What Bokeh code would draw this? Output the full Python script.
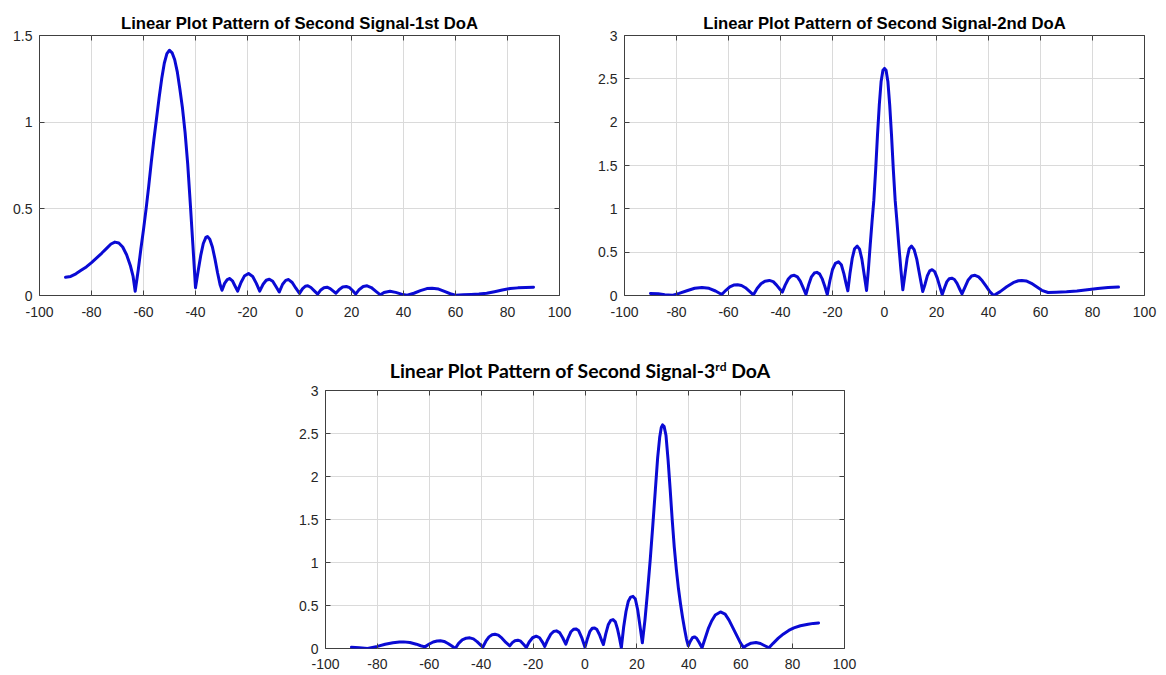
from bokeh.plotting import figure
from bokeh.models import LinearAxis, FixedTicker, NumeralTickFormatter, Range1d, Div, Spacer
from bokeh.layouts import row, column
from bokeh.embed import file_html
from bokeh.resources import INLINE

# ---------------- data ----------------
x_ticks = [-100, -80, -60, -40, -20, 0, 20, 40, 60, 80, 100]
y_ticks_first = [0, 0.5, 1, 1.5]
y_ticks_other = [0, 0.5, 1, 1.5, 2, 2.5, 3]

title_first = "Linear Plot Pattern of Second Signal-1st DoA"
title_second = "Linear Plot Pattern of Second Signal-2nd DoA"
title_third_main = "Linear Plot Pattern of Second Signal-3"
title_third_sup = "rd"
title_third_end = " DoA"

doa1_angle = [-90, -88, -86, -84, -82, -80, -78, -76, -74, -72.5, -71, -69.5, -68, -66.5, -65, -64,
              -63.2, -62, -61, -60, -59, -58, -57, -56, -55, -54, -53, -52, -51, -50, -49, -48, -47,
              -46, -45, -44, -43, -42, -41, -40,
              -39, -38, -37, -36, -35.4, -34.5, -33.5, -32.5, -31.5, -30.5, -29.8,
              -28.8, -27.8, -26.8, -25.8, -24.8, -23.8,
              -22.5, -21.2, -19.6, -18, -16.6, -15.3,
              -14, -12.8, -11.6, -10.3, -9, -7.8,
              -6.5, -5.3, -4.2, -2.8, -1.4, 0,
              1.2, 2.2, 3.2, 4.4, 5.7, 7,
              8.2, 9.4, 10.6, 11.8, 13, 14,
              15.3, 16.6, 18, 19.3, 20.5, 21.6,
              23, 24.5, 26, 27.6, 29.4, 31.1,
              32.5, 34.8, 37, 39.2, 41.4,
              44, 46.5, 49, 51, 53.5, 56, 58, 60,
              63, 66, 69, 72, 75, 78, 81, 84, 87, 90]
doa1_gain = [0.105, 0.11, 0.125, 0.145, 0.165, 0.19, 0.217, 0.245, 0.275, 0.297, 0.308, 0.303, 0.28,
             0.235, 0.17, 0.11, 0.025, 0.15, 0.27, 0.38, 0.5, 0.63, 0.77, 0.9, 1.02, 1.14, 1.25,
             1.34, 1.395, 1.415, 1.40, 1.36, 1.29, 1.19, 1.08, 0.94, 0.76, 0.53, 0.29, 0.045,
             0.14, 0.23, 0.3, 0.335, 0.34, 0.325, 0.28, 0.21, 0.13, 0.06, 0.03,
             0.07, 0.092, 0.098, 0.085, 0.055, 0.025,
             0.075, 0.112, 0.127, 0.11, 0.07, 0.025,
             0.065, 0.088, 0.094, 0.082, 0.05, 0.02,
             0.065, 0.087, 0.092, 0.075, 0.042, 0.012,
             0.04, 0.053, 0.056, 0.046, 0.027, 0.008,
             0.032, 0.045, 0.048, 0.04, 0.025, 0.013,
             0.035, 0.049, 0.052, 0.045, 0.027, 0.008,
             0.035, 0.052, 0.056, 0.046, 0.024, 0.004,
             0.017, 0.025, 0.018, 0.008, 0.002,
             0.013, 0.028, 0.04, 0.042, 0.037, 0.022, 0.01, 0.002,
             0.004, 0.006, 0.008, 0.013, 0.022, 0.032, 0.04, 0.044, 0.046, 0.048]

doa2_angle = [-90, -87, -84.5, -81.7,
              -79, -76, -73, -70.2, -67.5, -65, -62.6,
              -61, -59.5, -58, -56.5, -55, -53.5, -52, -50.4,
              -49, -47.5, -46, -44.3, -42.8, -41.5, -40.3, -39.3,
              -38.2, -37, -35.9, -34.7, -33.5, -32.4, -31.3, -30.2,
              -29.2, -28.1, -27, -26, -25, -24, -23, -22,
              -21, -20, -18.9, -17.7, -16.6, -15.6, -14.8, -14.1,
              -13.3, -12.4, -11.5, -10.5, -9.6, -8.7, -7.8, -6.9,
              -6.2, -5.5, -4.8, -4.1, -3.4, -2.7, -2.0, -1.3, -0.6, 0, 0.6, 1.3, 2.0, 2.7, 3.4,
              4.1, 4.8, 5.5, 6.3, 7.05,
              7.9, 8.7, 9.5, 10.4, 11.4, 12.4, 13.5, 14.7,
              15.6, 16.5, 17.4, 18.3, 19.3, 20.3, 21.3, 22.2,
              23.1, 24, 24.9, 25.9, 26.9, 27.9, 28.9, 29.8,
              31, 32.2, 33.5, 34.8, 36.2, 37.6, 39, 40.5, 42,
              44.5, 47, 49.5, 51.5, 52.8, 54.5, 56.5, 58.5, 60.5, 62.9,
              66, 70, 74, 78, 82, 86, 90]
doa2_gain = [0.023, 0.02, 0.01, 0.002,
             0.025, 0.055, 0.083, 0.093, 0.083, 0.052, 0.012,
             0.06, 0.1, 0.12, 0.124, 0.115, 0.09, 0.05, 0.008,
             0.08, 0.135, 0.165, 0.174, 0.16, 0.12, 0.075, 0.039,
             0.12, 0.19, 0.226, 0.233, 0.215, 0.165, 0.09, 0.012,
             0.12, 0.215, 0.259, 0.267, 0.25, 0.195, 0.11, 0.012,
             0.17, 0.3, 0.37, 0.388, 0.355, 0.25, 0.14, 0.054,
             0.25, 0.43, 0.54, 0.57, 0.535, 0.42, 0.24, 0.058,
             0.3, 0.58, 0.85, 1.1, 1.45, 1.85, 2.2, 2.47, 2.6, 2.62, 2.6, 2.47, 2.2, 1.85, 1.45,
             1.1, 0.85, 0.58, 0.3, 0.066,
             0.25, 0.43, 0.54, 0.57, 0.53, 0.42, 0.24, 0.047,
             0.13, 0.23, 0.285, 0.298, 0.275, 0.2, 0.1, 0.012,
             0.09, 0.16, 0.193, 0.2, 0.185, 0.14, 0.075, 0.019,
             0.1, 0.18, 0.225, 0.233, 0.215, 0.17, 0.11, 0.045, 0.0,
             0.045, 0.1, 0.148, 0.17, 0.174, 0.168, 0.14, 0.1, 0.06, 0.035,
             0.038, 0.043, 0.052, 0.067, 0.082, 0.092, 0.097]

doa3_angle = [-90, -87, -83.8,
              -80, -77, -74, -71.5, -69.9, -67.5, -65, -63.3, -61.7,
              -60, -58.5, -57, -55.7, -54.3, -52.8, -51.3, -50,
              -48.7, -47.3, -45.8, -44.4, -43, -41.6, -40.4, -39.4,
              -38.2, -37, -35.8, -34.7, -33.4, -32, -30.5, -29,
              -28, -27, -25.9, -24.8, -23.7, -22.6,
              -21.5, -20.2, -18.8, -17.5, -16.4, -15.5,
              -14.4, -13.2, -12.1, -11, -9.8, -8.6, -7.4,
              -6.4, -5.4, -4.4, -3.5, -2.5, -1.3, 0,
              1, 1.9, 2.8, 3.7, 4.6, 5.6, 6.4, 7.1,
              8, 9, 9.9, 10.8, 11.7, 12.5, 13.3, 14,
              14.9, 15.8, 16.7, 17.6, 18.5, 19.4, 20.3, 21.2, 22.1,
              23.1, 24.1, 25.1, 26.1, 27.1, 28, 28.8, 29.4, 29.9, 30.5, 31.2, 32, 32.8, 33.6,
              34.4, 35.2, 36, 36.8, 37.6, 38.4, 39.1, 39.8,
              40.6, 41.4, 42.2, 43, 44, 45.1,
              46.3, 47.5, 48.8, 50.2, 52.2, 54, 55.5, 57, 58.5, 60, 61.1,
              62.5, 64, 65.9, 67.6, 69.3, 70.9,
              72.5, 74.5, 76.5, 78.5, 80.5, 83, 86, 88, 90]
doa3_gain = [0.015, 0.008, 0.0,
             0.025, 0.05, 0.067, 0.075, 0.077, 0.07, 0.05, 0.032, 0.019,
             0.052, 0.076, 0.087, 0.089, 0.082, 0.058, 0.028, 0.0,
             0.06, 0.1, 0.12, 0.124, 0.112, 0.08, 0.045, 0.015,
             0.085, 0.135, 0.16, 0.166, 0.155, 0.12, 0.07, 0.031,
             0.068, 0.09, 0.097, 0.085, 0.05, 0.012,
             0.075, 0.125, 0.143, 0.125, 0.075, 0.023,
             0.1, 0.165, 0.198, 0.205, 0.185, 0.125, 0.05,
             0.13, 0.195, 0.224, 0.228, 0.21, 0.13, 0.015,
             0.12, 0.2, 0.235, 0.239, 0.22, 0.16, 0.095, 0.046,
             0.17, 0.28, 0.327, 0.336, 0.31, 0.23, 0.12, 0.008,
             0.25, 0.43, 0.55, 0.598, 0.606, 0.575, 0.45, 0.26, 0.066,
             0.33, 0.66, 1.02, 1.42, 1.84, 2.22, 2.46, 2.57, 2.6, 2.58, 2.48, 2.2, 1.86, 1.5,
             1.18, 0.92, 0.7, 0.52, 0.36, 0.22, 0.11, 0.031,
             0.085, 0.125, 0.135, 0.12, 0.07, 0.008,
             0.12, 0.23, 0.32, 0.39, 0.425, 0.4, 0.33, 0.24, 0.15, 0.06, 0.012,
             0.04, 0.062, 0.069, 0.058, 0.032, 0.008,
             0.06, 0.12, 0.17, 0.21, 0.24, 0.265, 0.283, 0.292, 0.297]

# ---------------- styling ----------------
LINE_COLOR = "#0a0ad4"
BOX_COLOR = "#404040"
TEXT_COLOR = "#262626"
GRID_COLOR = "#dadada"
TICK_FONT = "Liberation Sans"


def make_plot(title, xs, ys, ymax, yticks, width, height, bl, br, bt, bb, title_standoff,
              x_label_standoff):
    p = figure(width=width, height=height, x_range=Range1d(-100, 100), y_range=Range1d(0, ymax),
               output_backend="svg", toolbar_location=None,
               min_border_left=bl, min_border_right=br, min_border_top=bt, min_border_bottom=bb,
               title=title)
    p.background_fill_color = "white"
    p.border_fill_color = "white"
    p.outline_line_color = BOX_COLOR
    p.outline_line_width = 1
    p.outline_line_alpha = 1

    if title:
        p.title.text_font = "Liberation Sans"
        p.title.text_font_style = "bold"
        p.title.text_font_size = "16.7px"
        p.title.text_color = "black"
        p.title.align = "center"
        p.title.standoff = title_standoff

    for ax, ticks in ((p.xaxis[0], x_ticks), (p.yaxis[0], yticks)):
        ax.ticker = FixedTicker(ticks=ticks)
        ax.formatter = NumeralTickFormatter(format="0.[0]")
        ax.axis_line_color = None
        ax.major_tick_in = 5
        ax.major_tick_out = 0
        ax.major_tick_line_color = BOX_COLOR
        ax.minor_tick_line_color = None
        ax.major_label_text_font = TICK_FONT
        ax.major_label_text_font_size = "14px"
        ax.major_label_text_color = TEXT_COLOR
    p.xaxis[0].major_label_standoff = x_label_standoff
    p.yaxis[0].major_label_standoff = 7

    # mirrored inward ticks on top and right (MATLAB box style)
    for side, ticks in (("above", x_ticks), ("right", yticks)):
        ax = LinearAxis(ticker=FixedTicker(ticks=ticks), axis_line_color=None,
                        major_tick_in=5, major_tick_out=0, major_tick_line_color=BOX_COLOR,
                        minor_tick_line_color=None, major_label_text_font_size="0px",
                        major_label_text_color=None, major_label_standoff=0)
        p.add_layout(ax, side)

    p.xgrid.ticker = FixedTicker(ticks=x_ticks)
    p.ygrid.ticker = FixedTicker(ticks=yticks)
    p.xgrid.grid_line_color = GRID_COLOR
    p.ygrid.grid_line_color = GRID_COLOR
    p.xgrid.grid_line_width = 1
    p.ygrid.grid_line_width = 1

    p.line(xs, ys, line_color=LINE_COLOR, line_width=3, line_join="round", line_cap="round")
    return p


p1 = make_plot(title_first, doa1_angle, doa1_gain, 1.5, y_ticks_first,
               width=584, height=324, bl=39, br=25, bt=35, bb=29, title_standoff=6,
               x_label_standoff=11)
p2 = make_plot(title_second, doa2_angle, doa2_gain, 3, y_ticks_other,
               width=580, height=324, bl=40, br=20, bt=35, bb=29, title_standoff=6,
               x_label_standoff=11)
p3 = make_plot(None, doa3_angle, doa3_gain, 3, y_ticks_other,
               width=609, height=299, bl=45, br=45, bt=14, bb=27, title_standoff=0,
               x_label_standoff=10)
p3.border_fill_color = None

title_html = (
    '<div style="box-sizing: border-box; font-family: Lato, sans-serif; font-weight: bold; '
    'font-size: 19.4px; line-height: 22px; text-align: center; color: #000; padding-top: 36px; '
    'padding-right: 9px; width: 609px; white-space: nowrap;">'
    f'{title_third_main}<sup style="font-size: 0.62em; vertical-align: 0.62em; line-height: 0;">'
    f'{title_third_sup}</sup>{title_third_end}</div>'
)
div3 = Div(text=title_html, width=609, height=52, margin=(0, 0, 0, 0),
           styles={"overflow": "visible"})

layout = column(
    row(p1, p2),
    row(Spacer(width=280, height=351), column(div3, p3)),
)

open("out.html", "w").write(file_html(layout, INLINE))
